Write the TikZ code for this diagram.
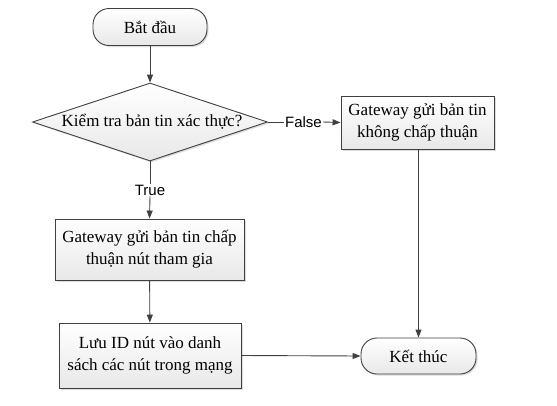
\documentclass[tikz,border=0pt]{standalone}
\usepackage{fontspec}
\setmainfont{Liberation Serif}
\newfontfamily\lsans{Liberation Sans}
\usetikzlibrary{shapes.geometric,shadows,arrows.meta}
\definecolor{linec}{HTML}{404040}
\tikzset{
  base/.style={draw=linec, line width=0.9pt, top color=white, bottom color=black!9,
    drop shadow={shadow xshift=1.5pt, shadow yshift=-1.5pt, fill=black!30, opacity=0.45},
    inner sep=0pt, align=center, font=\fontsize{17}{22}\selectfont},
  procbox/.style={base, rectangle},
  termbox/.style={base, rectangle, rounded corners=16pt},
  decbox/.style={base, diamond},
  lbl/.style={font=\lsans\fontsize{15}{18}\selectfont, inner sep=1pt},
  conn/.style={draw=linec, line width=0.9pt},
  arr/.style={conn, -{Triangle[length=8pt,width=6pt]}},
}
\begin{document}
\begin{tikzpicture}[x=1pt,y=-1pt]
\useasboundingbox (0,0) rectangle (557,405);
\node[termbox, minimum width=114pt, minimum height=37pt] (start) at (150,27) {Bắt đầu};
\node[decbox, minimum width=235pt, minimum height=78pt] (dec) at (150,122) {};
\node[font=\fontsize{17}{22}\selectfont, inner sep=0pt] (dect) at (152,122) {Kiểm tra bản tin xác thực?};
\node[procbox, minimum width=153pt, minimum height=53pt] (rej) at (417.5,122.5) {Gateway gửi bản tin\\không chấp thuận};
\node[procbox, minimum width=189pt, minimum height=61pt] (acc) at (149.5,249.5) {Gateway gửi bản tin chấp\\thuận nút tham gia};
\node[procbox, minimum width=182pt, minimum height=65pt] (save) at (150,355.5) {Lưu ID nút vào danh\\sách các nút trong mạng};
\node[termbox, minimum width=115pt, minimum height=36pt] (stop) at (418.5,356) {Kết thúc};
\node[lbl] (false) at (303.5,122) {False};
\node[lbl] (true) at (150,190) {True};
\draw[arr] (start) -- (dec.north);
\draw[conn] (dec.east) -- (false.west);
\draw[arr] (false.east) -- (rej.west);
\draw[conn] (dec.south) -- (true.north);
\draw[arr] (true.south) -- (acc.north);
\draw[arr] (acc) -- (save);
\draw[arr] (save.east) -- (stop.west);
\draw[arr] (rej.south -| stop.north) -- (stop.north);
\end{tikzpicture}
\end{document}
